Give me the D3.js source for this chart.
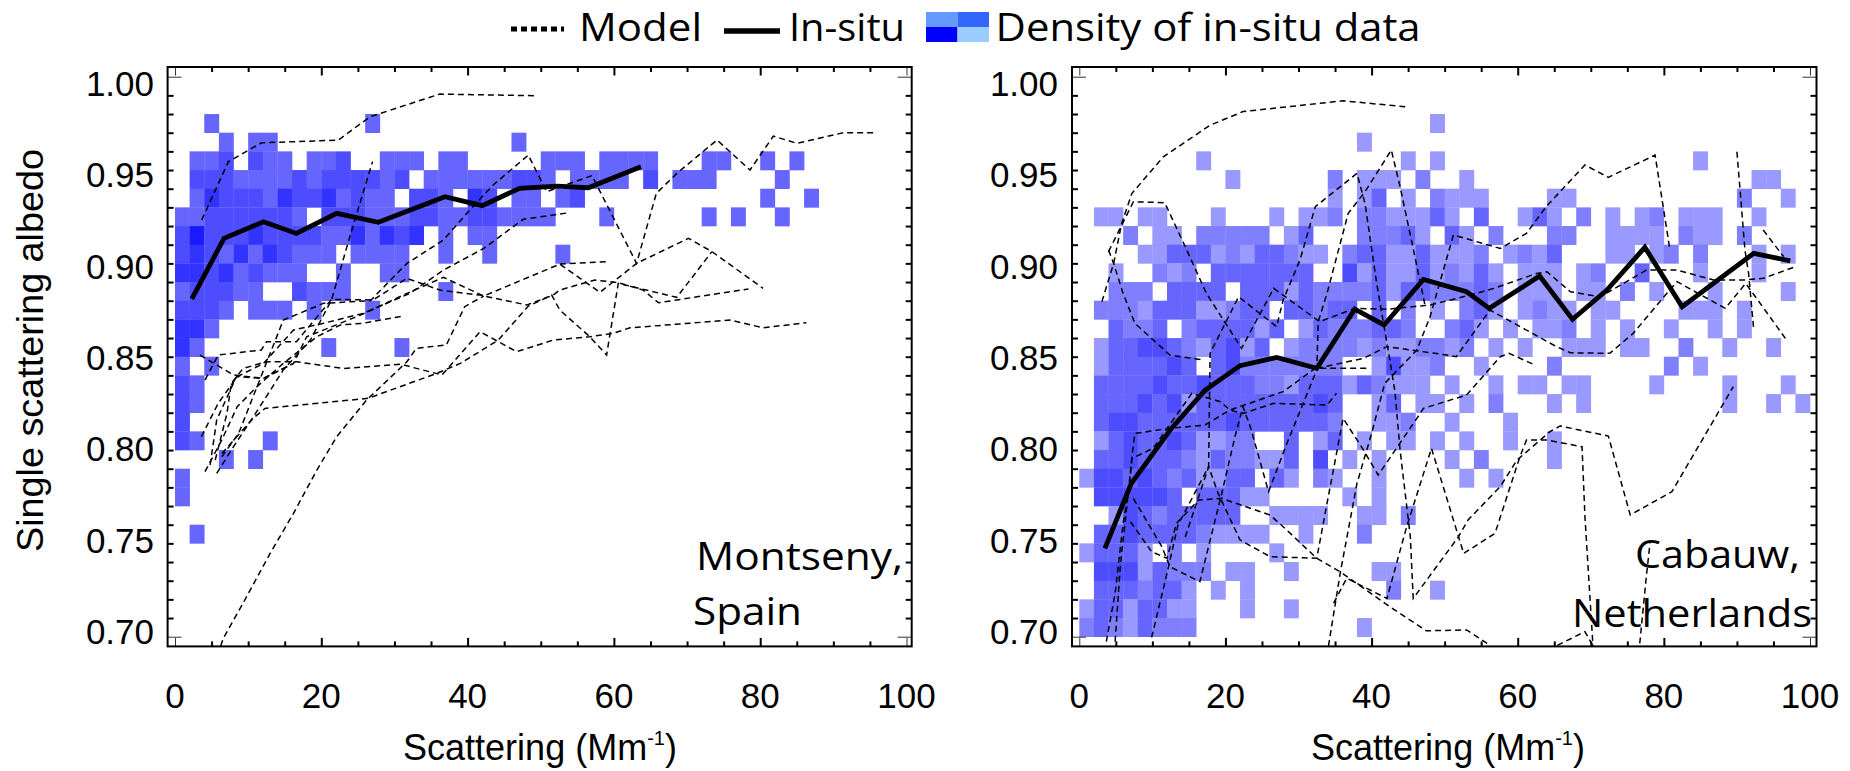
<!DOCTYPE html>
<html><head><meta charset="utf-8">
<script src="https://cdnjs.cloudflare.com/ajax/libs/d3/7.8.5/d3.min.js"></script>
<style>html,body{margin:0;padding:0;background:#fff}svg{display:block}</style>
</head><body><svg id="c" width="1850" height="771"></svg>
<script>
// ---- data: density rows [lower edge of albedo bin, "column:level" runs], bins are 2 Mm-1 wide
const binW = 2, binH = 0.01;
const montsenyDensity = [
[0.97,"2:1 13:1"],[0.96,"3:1 5-6:1 23:1"],
[0.95,"1-2:1 3:2 5:2 6-7:1 9-10:1 11:2 14-16:1 18-19:1 25-27:1 29-32:1 36-37:1 40:1 42:1"],
[0.94,"1-3:2 4-7:1 8:2 9:1 10-13:2 14:1 15:2 17-22:1 23-24:2 25:1 27-30:1 32:2 34-36:1 41:1"],
[0.93,"1:1 2:3 3-5:2 6:1 7:3 8-9:2 10:3 11:1 12:2 13-14:1 16-17:2 18:1 20:3 21:2 23-24:1 26:1 27:2 40:1 43:1"],
[0.92,"0-1:1 2-7:2 8:1 10-12:2 13-15:1 16-17:2 18-19:1 20-21:2 22-25:1 29:1 36:1 38:1 41:1"],
[0.91,"0:2 1:4 2-4:2 5:3 6-9:2 10-11:1 12:3 13:1 14:3 15:2 16:3 18:1 20-21:1"],
[0.90,"0:2 1:3 2:2 3:1 4:3 5:1 6:3 7:2 8-10:1 12-15:1 18:1 21:1 26:1"],
[0.89,"0-1:3 2:2 3:3 4:1 5:2 6-8:1 11:1 14-15:1"],
[0.88,"0:1 1-3:2 4-5:1 8:2 9-11:1 18:1"],
[0.87,"0-2:2 3:1 5-7:1 9:1 13:1"],
[0.86,"0-1:3 2:1"],[0.85,"0:3 1:1 10:1 15:1"],[0.84,"0:1 2:1"],[0.83,"0:2 1:1"],[0.82,"0:2 1:1"],[0.81,"0:2"],
[0.80,"0:2 1:1 6:1"],[0.79,"3:1 5:1"],[0.78,"0:1"],[0.77,"0:1"],[0.75,"1:1"]];
const cabauwDensity = [
[0.97,"24:1"],[0.96,"19:1"],[0.95,"8:1 22:1 24:1 42:1"],[0.94,"10:1 17:2 19-21:1 23:2 26:1 46-47:1"],
[0.93,"17:1 19:1 20:3 22:1 24:2 25-27:1 32-33:1 45:2 48:1"],
[0.92,"1-2:1 4-5:1 9:1 13:1 15-16:1 17:2 19-20:2 21-23:1 24:3 25:1 27:3 30:1 31:3 32:1 34:2 36:1 38:1 39:2 41-43:1 46:1"],
[0.91,"3:2 5-6:1 8-12:2 14:1 15:3 19-21:2 22:3 23:1 25:3 26:1 28:2 32-33:2 36-39:1 41:2 42-43:1 45:2"],
[0.90,"4-5:1 6-8:3 9:1 10:2 11:1 12-13:3 14:2 15-16:1 18:2 19-20:3 21-22:1 23:3 24-26:1 27:2 29:1 30:2 31:1 32:3 36-37:1 39:1 40:2 42:2 46:1 48:1"],
[0.89,"2:1 5:2 6:1 7:2 9-15:3 18:4 19:1 20:3 21-22:1 23:3 24:1 25:2 26:1 27:3 28:1 30-32:1 34:1 35:2 38:3 42:1 46:1"],
[0.88,"2-4:2 6-9:3 11-13:3 14:1 15:3 16-19:2 20:3 21:1 22-23:3 24-26:2 27:3 28:2 30-32:1 34-35:1 37:2 39:1 43:1 48:1"],
[0.87,"1-3:2 4:1 5-7:3 8-9:1 10:2 11-12:3 14-15:3 16:2 17-18:3 20:3 22:2 24:1 26:2 27:3 28:1 30:1 31:2 32-33:1 35-36:1 41-43:1 45:1"],
[0.86,"2:3 3-4:2 5:3 7:2 8-11:3 12:1 13:3 15:1 16:3 17-19:2 20-21:3 22:2 25:2 26:3 27:1 29:1 31-32:1 33:2 35:1 37:1 40:1 43:1 45:1"],
[0.85,"1:1 2-3:3 4-5:4 6:3 7:2 8:1 9:3 10:4 11:1 12:3 14:1 15-18:2 19:1 20:2 21-22:1 23-24:2 25:1 26:2 28:1 30:1 33-35:1 37-38:1 41:2 44:1 47:1"],
[0.84,"1:1 2-5:3 6:4 7:3 9:3 10:4 11-17:2 20:1 21:4 22-23:1 24:2 27:1 32:2 40:2 42:1"],
[0.83,"1-4:3 5:4 6-7:3 8:4 9-11:3 12-13:2 14:1 15-17:3 18:1 19:3 20:2 21-23:1 25:1 28:1 30-31:1 33-34:1 39:1 44:1 48:1"],
[0.82,"1-3:3 4:4 5:3 6:4 7:1 8-15:3 16:4 17:3 20:1 21:3 23-24:1 26:1 28:2 32:1 34:1 44:1 47:1 49:1"],
[0.81,"1:3 2-3:4 4-9:3 10:4 11-16:3 17:2 20-21:1 22:2 25:1 29:1"],
[0.80,"1:1 2:3 3:4 4-5:3 6:4 7:3 8-9:1 10-11:2 14:3 16:1 17:3 19:1 21-22:1 24:1 26:1 29:1 32:1"],
[0.79,"1-2:3 3:4 4-6:3 7:2 8:1 9:3 10-11:2 12-13:1 14:3 16:4 18:1 20:1 25:1 27:2 32:1"],
[0.78,"0:1 1-2:4 3:3 4:4 5:3 6:2 7:3 8-9:1 10-11:3 13:3 14:1 16:2 17:1 20:1 26:1 28:1"],
[0.77,"1-5:4 6:3 8-10:3 11-12:1 18:1 20:1"],
[0.76,"2:1 3:4 4:3 5:2 6-10:3 13-16:1 19-20:1 22:2"],
[0.75,"1-2:3 3:4 4-7:3 8:2 9-12:1 15:1 19:2"],
[0.74,"0:1 1-3:3 4:1 6:2 8:1 13:1"],
[0.73,"1-3:4 4:1 5:3 6-8:2 10-11:1 14:1 20-21:1"],
[0.72,"1-3:3 4:2 5-6:3 7:1 9:1 11:1 21:2 24:1"],
[0.71,"0:1 1-2:3 3:1 4-5:3 6-7:1 11:1 14:1"],
[0.70,"0:2 1:3 2:2 3:1 4:3 5-7:2 19:1"]];
const montsenyColors = ["#fff","#6666ff","#4d4dff","#3333ff","#1a1aff"];
const cabauwColors = ["#fff","#9999ff","#8080ff","#6666ff","#4d4dff"];

const montsenyInSitu = [[2.3,.881],[6.7,.9134],[12.1,.9223],[16.6,.916],[22.1,.9268],[27.8,.922],[36.9,.9357],[42,.9309],[47.1,.9402],[52.2,.9414],[56.5,.9405],[63.7,.9518]];
const cabauwInSitu = [[3.5,.7473],[7.1,.782],[12.6,.8116],[17.2,.832],[22,.8452],[27,.8496],[32.5,.8438],[37.7,.8755],[41.7,.867],[47.1,.8914],[53,.8848],[56.1,.8759],[63,.8932],[67.5,.87],[72.2,.8857],[77.4,.9086],[82.5,.8768],[92.3,.9054],[97.3,.9013]];

const montsenyModel = [
[[3.65,.9232],[7.3,.9545],[11.85,.9646],[22.3,.966],[26.7,.9786],[36.2,.9907],[49.2,.9898]],
[[5.7,.7875],[8,.8018],[11.6,.8232],[14.8,.8429],[18.5,.8589],[21.4,.8804],[23.9,.9143],[27,.9545]],
[[6.4,.7964],[8.7,.8089],[14.8,.8696],[20.3,.8786],[26.7,.88],[31.7,.9],[36.7,.9125],[40.3,.9286],[43.5,.942],[48.3,.958],[50.8,.9384],[57,.947],[63.1,.9],[65.8,.9375],[68.6,.9482],[74.1,.9661],[78.6,.95],[81.8,.9682],[85,.9643],[91.4,.97],[95.5,.97]],
[[3.6,.8071],[5.9,.825],[8.5,.8393],[12.1,.8464],[16.2,.8643],[20.3,.8679],[25.7,.8732],[32.1,.8839],[36.7,.8964],[42.2,.908],[47.6,.9236],[53.8,.9271]],
[[4.1,.7884],[6.4,.8054],[8.5,.8232],[11.2,.8339],[14.8,.8464],[19.4,.8607],[22.6,.867],[25.7,.8679],[31.2,.8718]],
[[4.8,.792],[5.7,.8161],[8.4,.8393],[12.1,.8384],[16.2,.8464],[18,.8607],[22.6,.8679],[25.7,.8729],[31.7,.8839],[36.7,.8925],[42.2,.8825],[52.6,.8996],[58.1,.8845],[63.1,.9],[70.2,.9134],[73.4,.9063],[80.4,.8866]],
[[4.1,.8375],[5.9,.8509],[11.8,.8536],[12.5,.858],[16.6,.858],[21.4,.8807],[27.1,.8804],[31.7,.892],[36.2,.8857],[41.7,.883],[48.1,.8777],[51.7,.883],[52.6,.8857],[57.4,.8911],[60.6,.8896],[64,.8857],[66.1,.8789],[78.4,.8863]],
[[5.8,.69],[6.6,.6991],[9.3,.7179],[13,.7446],[16.2,.7661],[19.4,.7893],[22.1,.8071],[26.2,.8268],[31.7,.8473],[33,.8545],[37.1,.8563],[39.6,.8768],[42.2,.8825]],
[[52.6,.8996],[59,.9009]],
[[6.4,.7982],[10.7,.817],[12.3,.8223],[26.4,.8277],[35.8,.8411],[39,.8464],[44.2,.8589],[48.3,.8771],[51.5,.883],[52.6,.875],[56.7,.8607],[59,.8509],[60.6,.8893],[68.6,.8818],[73.4,.9063]],
[[5.5,.7946],[7.1,.8196],[7.7,.8357],[9.3,.8437],[12.5,.8473],[16.6,.8473],[23,.8437],[30.8,.846],[36.5,.8402],[41.7,.8634],[46.7,.8527],[51.7,.8589],[56.7,.8607],[59.9,.8625],[62.2,.8655],[75.9,.8696],[80.4,.8655],[86.3,.8682]],
[[3.4,.8509],[8,.8402],[12.1,.8384],[16.2,.8464]]];

const cabauwModel = [
[[3.1,.8795],[4.7,.9],[5.8,.9214],[7.2,.9375],[11.5,.9571],[17.9,.974],[22.4,.9813],[36.1,.9871],[44.6,.9839]],
[[4,.9071],[4.7,.9],[6,.8839],[7.6,.8679],[12.4,.8509],[17,.8482]],
[[4,.9063],[7.4,.933],[11.7,.9325],[14.5,.9089],[17.4,.8839],[22.2,.8545],[26.6,.8866],[32.9,.8688],[37.7,.8759],[42.1,.8754],[48,.8777],[53.5,.883],[56.7,.8866],[62.6,.8946],[64,.8955],[67.2,.8848],[71.3,.8821],[77.6,.8964],[81.8,.8964],[86.8,.8911],[91.1,.8911],[93.6,.892],[98,.8982]],
[[9.9,.6996],[12,.7339],[13.5,.7598],[17.7,.7911],[17.9,.8518],[21.8,.8821],[27,.8661],[27.9,.8804],[30.2,.9018],[32.3,.9304],[38,.9482],[39.1,.9321],[40.7,.8893],[41.4,.8732],[42.5,.8482],[43.2,.8313],[43.9,.8],[45.3,.7536],[45.7,.7205],[51.9,.7536],[53.2,.7625],[57.6,.7804],[59.9,.7946],[64.4,.8098],[65.8,.8129],[72.4,.8075],[75.4,.7652],[81.1,.7777],[89.5,.8339]],
[[7.4,.7741],[11.3,.7482],[12.4,.7375],[16.5,.7295],[19.5,.7768],[21.3,.8071],[22.4,.8232],[23.4,.8125],[25.9,.7777],[28.6,.8054],[32.5,.8429],[32.7,.8688],[33.9,.8839],[36.8,.9268],[39.1,.9384],[42.7,.9607],[43.9,.9411],[46.6,.8911],[47.3,.8777]],
[[34.1,.695],[35.7,.7339],[38,.7821],[40,.8089],[41.8,.8357],[46.2,.8536],[48,.8714],[51.2,.9152],[57.6,.908],[61.2,.9161],[63.9,.9304],[69.2,.9527],[72.4,.9461],[78.8,.958],[80.8,.908]],
[[7,.7616],[9.9,.7455],[12,.742],[13.3,.7607],[16.3,.7732],[19.5,.7741],[26.1,.7652],[27.9,.7589],[32.5,.742],[35.7,.7348],[42.5,.7161],[47.5,.7032],[53,.7036],[56.2,.6955]],
[[14.5,.7534],[17.7,.7911],[19,.7768],[22,.7518],[26.1,.7429],[32.5,.742],[33.9,.7714],[35.2,.7982],[36.1,.817],[38.9,.8],[40.9,.7866],[46.2,.817],[47.1,.8223],[53,.8295],[57.6,.85],[58.8,.8518],[62.4,.8455]],
[[34.8,.718],[36.6,.7313],[42.1,.7205],[44.8,.7589],[48.2,.8009],[51.9,.7536],[52.6,.7446],[56.9,.7554],[60.3,.7964],[61.2,.8054],[63.9,.8054],[68.8,.8018],[69.2,.7643],[70.3,.695]],
[[32.5,.8438],[38.9,.8491],[42.1,.8554],[50.3,.8509],[51.6,.85],[56.2,.875],[65.3,.8554],[67.2,.8521],[72.6,.8518],[75.8,.8625],[80.4,.8839],[81.8,.8902],[88.4,.8759],[91.2,.8893],[96.8,.8589]],
[[90,.9598],[91.1,.9071],[91.6,.8946],[92.3,.8643]],
[[93.6,.9179],[95.7,.9071],[96.4,.9036]],
[[4.9,.6973],[5.6,.7375],[6.5,.7696],[7.2,.7964],[7.6,.8089],[12.4,.8116],[17.2,.8134],[20.6,.8214],[27.9,.8313],[32.3,.8438],[39.6,.8438]],
[[3.7,.6973],[4.9,.7232],[6,.7607],[6.9,.7821],[7.2,.7955],[10.1,.8009],[15.4,.8304],[19.3,.8259],[20.6,.8214],[22.4,.8196],[26.6,.825],[33.9,.8241],[35.2,.8304]],
[[76.7,.6964],[77.6,.7321],[78.1,.75]],
[[64.2,.693],[69.2,.7027],[70.3,.695]]];

const xMajor = [0,20,40,60,80,100];
const xMinor = d3.range(0,101,5);
const yMajor = [0.70,0.75,0.80,0.85,0.90,0.95,1.00];
const yMinor = d3.range(70,101).map(d=>d/100);

const legendSwatch = ["#6699ff","#3366ff","#0000ff","#99ccff"];

// ---- layout
const svg = d3.select("#c");
const defs = svg.append("defs");
const panels = [
 {id:"a",xr:[175,906.5],fx:[167.6,911.7],dens:montsenyDensity,col:montsenyColors,ins:montsenyInSitu,mod:montsenyModel,labelX:154,titleCx:540},
 {id:"b",xr:[1079.3,1810],fx:[1072,1816.5],dens:cabauwDensity,col:cabauwColors,ins:cabauwInSitu,mod:cabauwModel,labelX:1058,titleCx:1448}
];
const y = d3.scaleLinear().domain([0.70,1.00]).range([636.7,76.7]);
const yLabelPos = d3.scaleLinear().domain([0.70,1.00]).range([644,96]);
const frameTop = 67, frameBottom = 646.4;
const tickFont = "'Liberation Sans',Arial,sans-serif";
const calloutFont = "'Open Sans',sans-serif";

function parseRuns(s){
  const out=[];
  s.split(" ").forEach(t=>{
    const [r,l]=t.split(":"); const [a,b]=r.split("-").map(Number);
    for(let c=a;c<=(b===undefined?a:b);c++) out.push({c,l:+l});
  });
  return out;
}

panels.forEach(p=>{
  const x = d3.scaleLinear().domain([0,100]).range(p.xr);
  const g = svg.append("g");
  defs.append("clipPath").attr("id","clip"+p.id).append("rect")
    .attr("x",p.fx[0]).attr("y",frameTop).attr("width",p.fx[1]-p.fx[0]).attr("height",frameBottom-frameTop);
  // density cells
  const cells = p.dens.flatMap(([v,s])=>parseRuns(s).map(d=>({v,...d})));
  g.append("g").selectAll("rect").data(cells).join("rect")
    .attr("x",d=>x(d.c*binW)).attr("width",d=>x((d.c+1)*binW)-x(d.c*binW)+.3)
    .attr("y",d=>y(d.v+binH)).attr("height",d=>y(d.v)-y(d.v+binH)+.3)
    .attr("fill",d=>p.col[d.l]);
  const line = d3.line().x(d=>x(d[0])).y(d=>y(d[1]));
  const plot = g.append("g").attr("clip-path",`url(#clip${p.id})`);
  plot.selectAll("path.m").data(p.mod).join("path").attr("class","m")
    .attr("d",line).attr("fill","none").attr("stroke","#000").attr("stroke-width",1.5).attr("stroke-dasharray","6,4");
  plot.append("path").datum(p.ins).attr("d",line).attr("fill","none").attr("stroke","#000").attr("stroke-width",4.8).attr("stroke-linejoin","miter");

  // axes, real ticks on all four sides
  const ax = (sel)=>sel.call(s=>s.select(".domain").remove()).call(s=>s.selectAll("line").attr("stroke","#000").attr("stroke-width",2));
  const xb = x.copy(), yl = y.copy();
  g.append("g").attr("transform",`translate(0,${frameBottom})`).call(d3.axisBottom(xb).tickValues(xMinor.filter(d=>d>0&&d<100&&d%20)).tickSize(-5).tickFormat("")).call(ax);
  g.append("g").attr("transform",`translate(0,${frameBottom})`).call(d3.axisBottom(xb).tickValues(xMajor.slice(1,-1)).tickSize(-8.5).tickFormat("")).call(ax);
  g.append("g").attr("transform",`translate(0,${frameTop})`).call(d3.axisTop(xb).tickValues(xMinor.filter(d=>d>0&&d<100&&d%20)).tickSize(-5).tickFormat("")).call(ax);
  g.append("g").attr("transform",`translate(0,${frameTop})`).call(d3.axisTop(xb).tickValues(xMajor.slice(1,-1)).tickSize(-8.5).tickFormat("")).call(ax);
  g.append("g").attr("transform",`translate(${p.fx[0]},0)`).call(d3.axisLeft(yl).tickValues(yMinor.slice(1,-1)).tickSize(-6).tickFormat("")).call(ax);
  g.append("g").attr("transform",`translate(${p.fx[1]},0)`).call(d3.axisRight(yl).tickValues(yMinor.slice(1,-1)).tickSize(-6).tickFormat("")).call(ax);
  // thin end ticks
  const thin = s=>s.call(t=>t.select(".domain").remove()).call(t=>t.selectAll("line").attr("stroke","#333").attr("stroke-width",1));
  g.append("g").attr("transform",`translate(${p.fx[0]},0)`).call(d3.axisLeft(yl).tickValues([0.70,1.00]).tickSize(-14).tickFormat("")).call(thin);
  g.append("g").attr("transform",`translate(${p.fx[1]},0)`).call(d3.axisRight(yl).tickValues([0.70,1.00]).tickSize(-14).tickFormat("")).call(thin);
  g.append("g").attr("transform",`translate(0,${frameBottom})`).call(d3.axisBottom(xb).tickValues([0,100]).tickSize(-8.5).tickFormat("")).call(thin);
  g.append("g").attr("transform",`translate(0,${frameTop})`).call(d3.axisTop(xb).tickValues([0,100]).tickSize(-8.5).tickFormat("")).call(thin);
  // frame
  g.append("rect").attr("x",p.fx[0]).attr("y",frameTop).attr("width",p.fx[1]-p.fx[0]).attr("height",frameBottom-frameTop)
    .attr("fill","none").attr("stroke","#000").attr("stroke-width",2);
  // tick labels
  const txt = s=>s.attr("font-family",tickFont).attr("font-size",35).attr("fill","#000");
  g.append("g").selectAll("text").data(yMajor).join("text").call(txt)
    .attr("x",p.labelX).attr("y",d=>yLabelPos(d)).attr("text-anchor","end").text(d=>d.toFixed(2));
  g.append("g").selectAll("text").data(xMajor).join("text").call(txt)
    .attr("x",d=>x(d)).attr("y",708).attr("text-anchor","middle").text(d=>d);
  const t = g.append("text").attr("font-family",tickFont).attr("font-size",36).attr("fill","#000")
    .attr("x",p.titleCx).attr("y",760).attr("text-anchor","middle");
  t.append("tspan").text("Scattering (Mm");
  t.append("tspan").attr("font-size",20).attr("dy",-15).text("-1");
  t.append("tspan").attr("dy",15).text(")");
});

svg.append("text").attr("transform","translate(43,350.5) rotate(-90)").attr("text-anchor","middle")
  .attr("font-family",tickFont).attr("font-size",36).attr("textLength",403).attr("lengthAdjust","spacingAndGlyphs").text("Single scattering albedo");

const callout=(s,x,yy,w)=>svg.append("text").attr("x",x).attr("y",yy).attr("font-family",calloutFont).attr("font-size",38)
   .attr("textLength",w).attr("lengthAdjust","spacingAndGlyphs").attr("fill","#000").text(s);
callout("Montseny,",696,570,207);
callout("Spain",693,625,109);
callout("Cabauw,",1635,568,165);
callout("Netherlands",1572,627,240);

// legend
callout("Model",579,41,123);
callout("In-situ",789,41,116);
callout("Density of in-situ data",995.6,41,425);
svg.append("line").attr("x1",511).attr("x2",564).attr("y1",29).attr("y2",29).attr("stroke","#000").attr("stroke-width",5).attr("stroke-dasharray","6,4");
svg.append("line").attr("x1",724).attr("x2",780).attr("y1",31).attr("y2",31).attr("stroke","#000").attr("stroke-width",5.5);
svg.append("g").selectAll("rect").data(legendSwatch).join("rect")
  .attr("x",(d,i)=>926+(i%2)*31.5).attr("y",(d,i)=>12+Math.floor(i/2)*15).attr("width",31.5).attr("height",15).attr("fill",d=>d);
</script></body></html>
